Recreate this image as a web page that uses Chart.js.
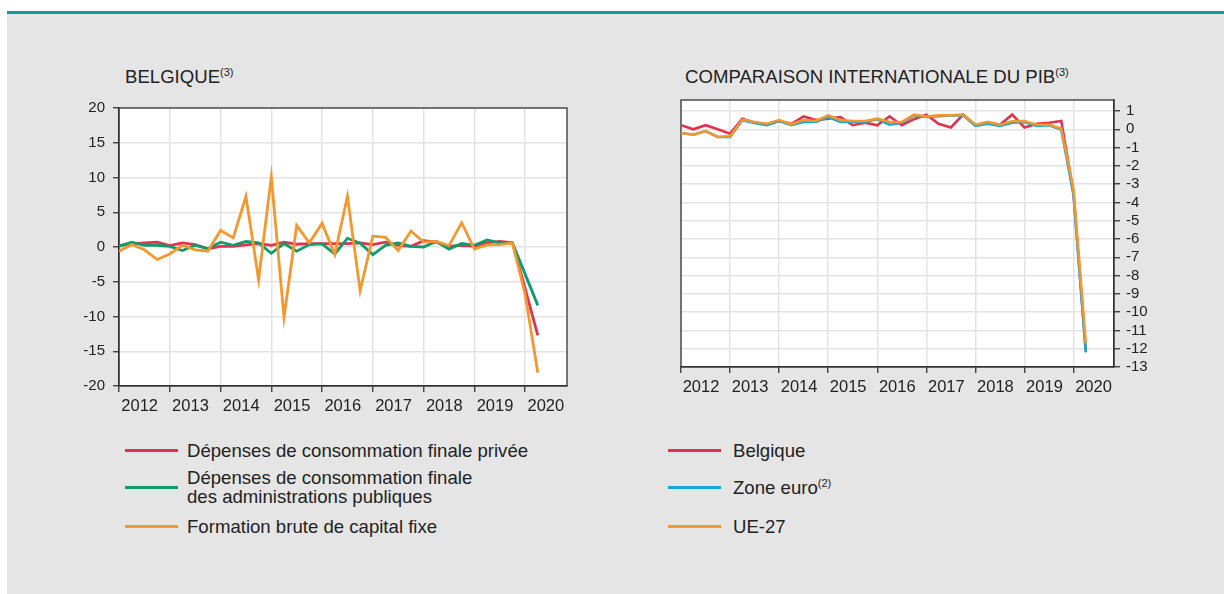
<!DOCTYPE html>
<html>
<head>
<meta charset="utf-8">
<script src="https://cdn.jsdelivr.net/npm/chart.js@4.4.1/dist/chart.umd.min.js"></script>
<style>
  body { margin: 0; width: 1224px; height: 594px; background: #fff; position: relative; overflow: hidden;
         font-family: "Liberation Sans", Arial, sans-serif; color: #222; }
  #rule { position: absolute; left: 7px; top: 11px; width: 1217px; height: 3px; background: #14989e; }
  #panel { position: absolute; left: 7px; top: 14px; width: 1217px; height: 580px; background: #e5e5e5; }
  .title { position: absolute; top: 67px; font-size: 18.6px; line-height: 20px; white-space: nowrap; }
  sup { font-size: 11px; vertical-align: 7px; line-height: 0; }
  canvas { position: absolute; }
  .sw { position: absolute; width: 53px; height: 3px; }
  .lt { position: absolute; font-size: 18.6px; line-height: 19px; white-space: nowrap; }
</style>
</head>
<body>
<div id="rule"></div>
<div id="panel"></div>

<div class="title" style="left:125px">BELGIQUE<sup>(3)</sup></div>
<div class="title" style="left:685px">COMPARAISON INTERNATIONALE DU PIB<sup>(3)</sup></div>

<canvas id="c1" width="530" height="340" style="left:60px;top:90px"></canvas>
<canvas id="c2" width="560" height="320" style="left:640px;top:90px"></canvas>

<!-- legends -->
<div class="sw" style="left:125px;top:449px;background:#e0344e"></div>
<div class="lt" style="left:187px;top:441px">Dépenses de consommation finale privée</div>
<div class="sw" style="left:125px;top:486px;background:#0f9b6b"></div>
<div class="lt" style="left:187px;top:468px">Dépenses de consommation finale<br>des administrations publiques</div>
<div class="sw" style="left:125px;top:525px;background:#f4972f"></div>
<div class="lt" style="left:187px;top:517px">Formation brute de capital fixe</div>

<div class="sw" style="left:668px;top:449px;background:#e0344e"></div>
<div class="lt" style="left:733px;top:441px">Belgique</div>
<div class="sw" style="left:668px;top:486px;background:#14a8d6"></div>
<div class="lt" style="left:733px;top:478px">Zone euro<sup>(2)</sup></div>
<div class="sw" style="left:668px;top:525px;background:#f4972f"></div>
<div class="lt" style="left:733px;top:517px">UE-27</div>

<script>
// quarterly growth, 2012 T1 .. 2020 T2
var years = [2012, 2013, 2014, 2015, 2016, 2017, 2018, 2019, 2020]

// Belgique
var privee = [0.2, 0.5, 0.6, 0.7, 0.2, 0.6, 0.35, -0.25, 0.1, 0.1, 0.3, 0.5, 0.25, 0.7, 0.4, 0.5,
  0.5, 0.5, 0.5, 0.6, 0.35, 0.7, 0.25, 0.1, 0.9, 0.7, 0.1, 0.25, 0.1, 0.6, 0.8, 0.6, -6.0, -12.7]
var publiques = [0.1, 0.7, 0.25, 0.25, 0.1, -0.5, 0.25, -0.25, 0.7, 0.25, 0.8, 0.6, -0.9, 0.5, -0.6, 0.35,
  0.45, -1.0, 1.25, 0.55, -1.1, 0.25, 0.6, 0.1, 0.0, 0.8, -0.3, 0.5, 0.25, 1.0, 0.6, 0.6, -3.9, -8.4]
var fbcf = [-0.6, 0.35, -0.4, -1.8, -1.0, 0.25, -0.4, -0.6, 2.4, 1.3, 7.3, -4.7, 10.1, -10.1, 3.1, 0.6,
  3.4, -1.1, 7.3, -6.3, 1.55, 1.4, -0.5, 2.3, 0.7, 0.8, 0.2, 3.5, -0.3, 0.3, 0.35, 0.6, -6.8, -18.1]

// PIB
var pibBelgique = [0.22, 0.0, 0.22, 0.0, -0.24, 0.58, 0.36, 0.27, 0.45, 0.3, 0.7, 0.5, 0.58, 0.67, 0.22, 0.36,
  0.22, 0.7, 0.22, 0.55, 0.8, 0.3, 0.1, 0.8, 0.22, 0.36, 0.25, 0.8, 0.1, 0.3, 0.36, 0.45, -3.5, -12.1]
var pibZoneEuro = [-0.2, -0.3, -0.1, -0.42, -0.42, 0.5, 0.35, 0.22, 0.45, 0.22, 0.4, 0.4, 0.67, 0.4, 0.4, 0.4,
  0.55, 0.25, 0.35, 0.75, 0.67, 0.72, 0.76, 0.76, 0.18, 0.3, 0.18, 0.36, 0.4, 0.18, 0.22, -0.02, -3.6, -12.2]
var pibUE27 = [-0.2, -0.3, -0.1, -0.42, -0.38, 0.53, 0.4, 0.3, 0.5, 0.27, 0.5, 0.45, 0.76, 0.5, 0.45, 0.45,
  0.58, 0.4, 0.4, 0.8, 0.7, 0.76, 0.76, 0.8, 0.25, 0.4, 0.25, 0.44, 0.45, 0.25, 0.25, 0.04, -3.3, -11.7]

var ticksLeft = [-20, -15, -10, -5, 0, 5, 10, 15, 20]
var ticksRight = [-13, -12, -11, -10, -9, -8, -7, -6, -5, -4, -3, -2, -1, 0, 1]

var colors = {
  red: '#e0344e',
  green: '#0f9b6b',
  orange: '#f4972f',
  blue: '#14a8d6'
}

function pts(arr) {
  return arr.map(function (v, i) { return { x: i, y: v } })
}

// white plot area, box, year labels between the year ticks
var frame = {
  id: 'frame',
  beforeDraw: function (chart) {
    var a = chart.chartArea, c = chart.ctx
    c.save()
    c.fillStyle = '#fff'
    c.fillRect(a.left, a.top, a.right - a.left, a.bottom - a.top)
    c.restore()
  },
  beforeDatasetsDraw: function (chart) {
    var a = chart.chartArea, c = chart.ctx
    c.save()
    c.strokeStyle = '#333'
    c.lineWidth = 1.3
    c.strokeRect(a.left, a.top, a.right - a.left, a.bottom - a.top)
    c.restore()
  },
  afterDraw: function (chart) {
    var a = chart.chartArea, c = chart.ctx, sx = chart.scales.x
    c.save()
    c.fillStyle = '#222'
    c.font = '16.5px "Liberation Sans", Arial, sans-serif'
    c.textAlign = 'center'
    c.textBaseline = 'middle'
    years.forEach(function (y, k) {
      c.fillText(String(y), sx.getPixelForValue(k * 4 + 1.63), a.bottom + 20)
    })
    c.restore()
  }
}

function line(data, color, order, w) {
  return {
    data: pts(data), borderColor: color, backgroundColor: color, borderWidth: w,
    pointRadius: 0, tension: 0, order: order
  }
}

function xAxis(h) {
  return {
    type: 'linear', min: 0, max: 35.3,
    afterBuildTicks: function (s) { s.ticks = years.map(function (y, k) { return { value: k * 4 } }) },
    afterFit: function (s) { s.height = h; s.paddingLeft = 0; s.paddingRight = 0 },
    ticks: { display: false },
    grid: { color: '#e3e3e3', lineWidth: 1.5, tickLength: 6, tickColor: '#333', tickWidth: 1.3 },
    border: { color: '#333', width: 1.3 }
  }
}

function yAxis(list, min, max, w, pos, pad) {
  return {
    type: 'linear', position: pos, min: min, max: max,
    afterBuildTicks: function (s) { s.ticks = list.map(function (v) { return { value: v } }) },
    afterFit: function (s) { s.width = w; s.paddingTop = 0; s.paddingBottom = 0 },
    ticks: { color: '#222', font: { size: 15, family: '"Liberation Sans", Arial, sans-serif' }, padding: pad,
      autoSkip: false, callback: function (v) { return String(v) } },
    grid: { color: '#e3e3e3', lineWidth: 1.5, tickLength: 6, tickColor: '#333', tickWidth: 1.3 },
    border: { color: '#333', width: 1.3 }
  }
}

new Chart(document.getElementById('c1'), {
  type: 'line',
  data: {
    datasets: [
      line(privee, colors.red, 3, 2.8),
      line(publiques, colors.green, 2, 2.8),
      line(fbcf, colors.orange, 1, 2.8)
    ]
  },
  options: {
    responsive: false, animation: false, devicePixelRatio: 1,
    layout: { padding: { top: 18, right: 23, left: 0, bottom: 0 } },
    plugins: { legend: { display: false }, tooltip: { enabled: false } },
    scales: {
      x: xAxis(44),
      y: yAxis(ticksLeft, -20, 20, 59, 'left', 8)
    }
  },
  plugins: [frame]
})

new Chart(document.getElementById('c2'), {
  type: 'line',
  data: {
    datasets: [
      line(pibBelgique, colors.red, 3, 2.6),
      line(pibZoneEuro, colors.blue, 2, 2.6),
      line(pibUE27, colors.orange, 1, 2.6)
    ]
  },
  options: {
    responsive: false, animation: false, devicePixelRatio: 1,
    layout: { padding: { top: 10, right: 0, left: 41, bottom: 0 } },
    plugins: { legend: { display: false }, tooltip: { enabled: false } },
    scales: {
      x: xAxis(43),
      y: yAxis(ticksRight, -13, 1.6, 86, 'right', 6)
    }
  },
  plugins: [frame]
})
</script>
</body>
</html>
